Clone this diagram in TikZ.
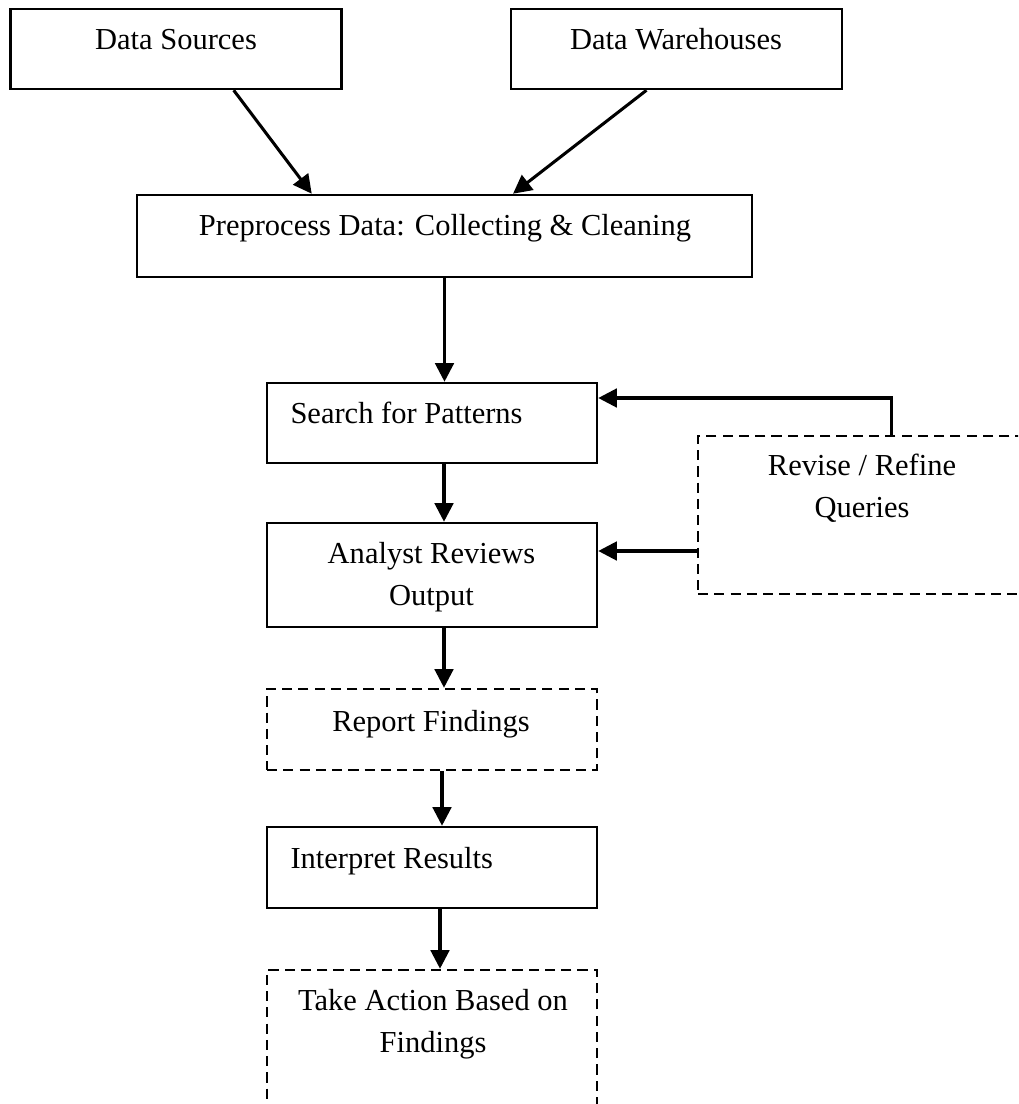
\documentclass[tikz,border=0pt]{standalone}
\usepackage{fontspec}
\setmainfont{Liberation Serif}
\usetikzlibrary{arrows.meta,calc}
\newcommand{\pxu}{0.3934pt}
\tikzset{
	box/.style={draw,line width=1pt,inner sep=0pt,minimum width=330*\pxu,minimum height=80*\pxu},
	dashbox/.style={box,dash pattern=on 4pt off 2.4pt},
	txt/.style={inner sep=0pt,font=\fontsize{12}{16.2}\selectfont,align=center},
	flow/.style={->,line width=1.2pt}
}
\begin{document}
\begin{tikzpicture}[line join=miter,x=\pxu,y=-\pxu,>={Triangle[length=7.3pt,width=7.3pt]}]
	\useasboundingbox (0,0) rectangle (1018,1104);
	\clip (0,0) rectangle (1018,1104);
	% boxes
	\node[box,minimum width=331*\pxu] (src) at (176,49) {};
	\node[box,minimum width=331*\pxu] (wh) at (676.5,49) {};
	\node[box,minimum width=615*\pxu,minimum height=82*\pxu] (pre) at (444.5,236) {};
	\node[box] (search) at (432,423) {};
	\node[box,minimum height=104*\pxu] (analyst) at (432,575) {};
	\node[dashbox,minimum height=81*\pxu] (report) at (432,729.5) {};
	\node[box,minimum height=81*\pxu] (interp) at (432,867.5) {};
	\node[dashbox,minimum height=230*\pxu] (action) at (432,1085) {};
	\node[dashbox,minimum width=402*\pxu,minimum height=158*\pxu] (revise) at (899,515) {};
	% texts (base = last line)
	\node[txt,anchor=base] (srctxt) at (176,50) {Data Sources};
	\node[txt,anchor=base] (whtxt) at (676,50) {Data Warehouses};
	\node[txt,anchor=base] (pretxt) at (445,236) {Preprocess Data: Collecting \& Cleaning};
	\node[txt,anchor=base west] (searchtxt) at (290,424) {Search for Patterns};
	\node[txt,anchor=base] (analysttxt) at (431.5,605) {Analyst Reviews\\Output};
	\node[txt,anchor=base] (reporttxt) at (431,731) {Report Findings};
	\node[txt,anchor=base west] (interptxt) at (290,868) {Interpret Results};
	\node[txt,anchor=base] (actiontxt) at (433,1052) {Take Action Based on\\Findings};
	\node[txt,anchor=base] (revisetxt) at (862,517) {Revise / Refine\\Queries};
	% arrows
	\draw[flow] ($(src.south west)!0.673!(src.south east)$) -- ($(pre.north west)!0.285!(pre.north east)$);
	\draw[flow] ($(wh.south west)!0.41!(wh.south east)$) -- ($(pre.north west)!0.611!(pre.north east)$);
	\draw[flow] (pre.south) -- (pre.south |- search.north);
	\draw[flow] ($(search.south)+(12,0)$) -- ($(analyst.north)+(12,0)$);
	\draw[flow] ($(analyst.south)+(12,0)$) -- ($(report.north)+(12,0)$);
	\draw[flow] ($(report.south)+(10,0)$) -- ($(interp.north)+(10,0)$);
	\draw[flow] ($(interp.south)+(8,0)$) -- ($(action.north)+(8,0)$);
	% feedback
	\coordinate (rtop) at ($(revise.north west)+(195,0)$);
	\coordinate (sin) at ($(search.east)+(0,-25)$);
	\coordinate (ain) at ($(analyst.east)+(0,-24)$);
	\draw[flow] (rtop) |- (sin);
	\draw[flow] (ain -| revise.west) -- (ain);
\end{tikzpicture}
\end{document}
